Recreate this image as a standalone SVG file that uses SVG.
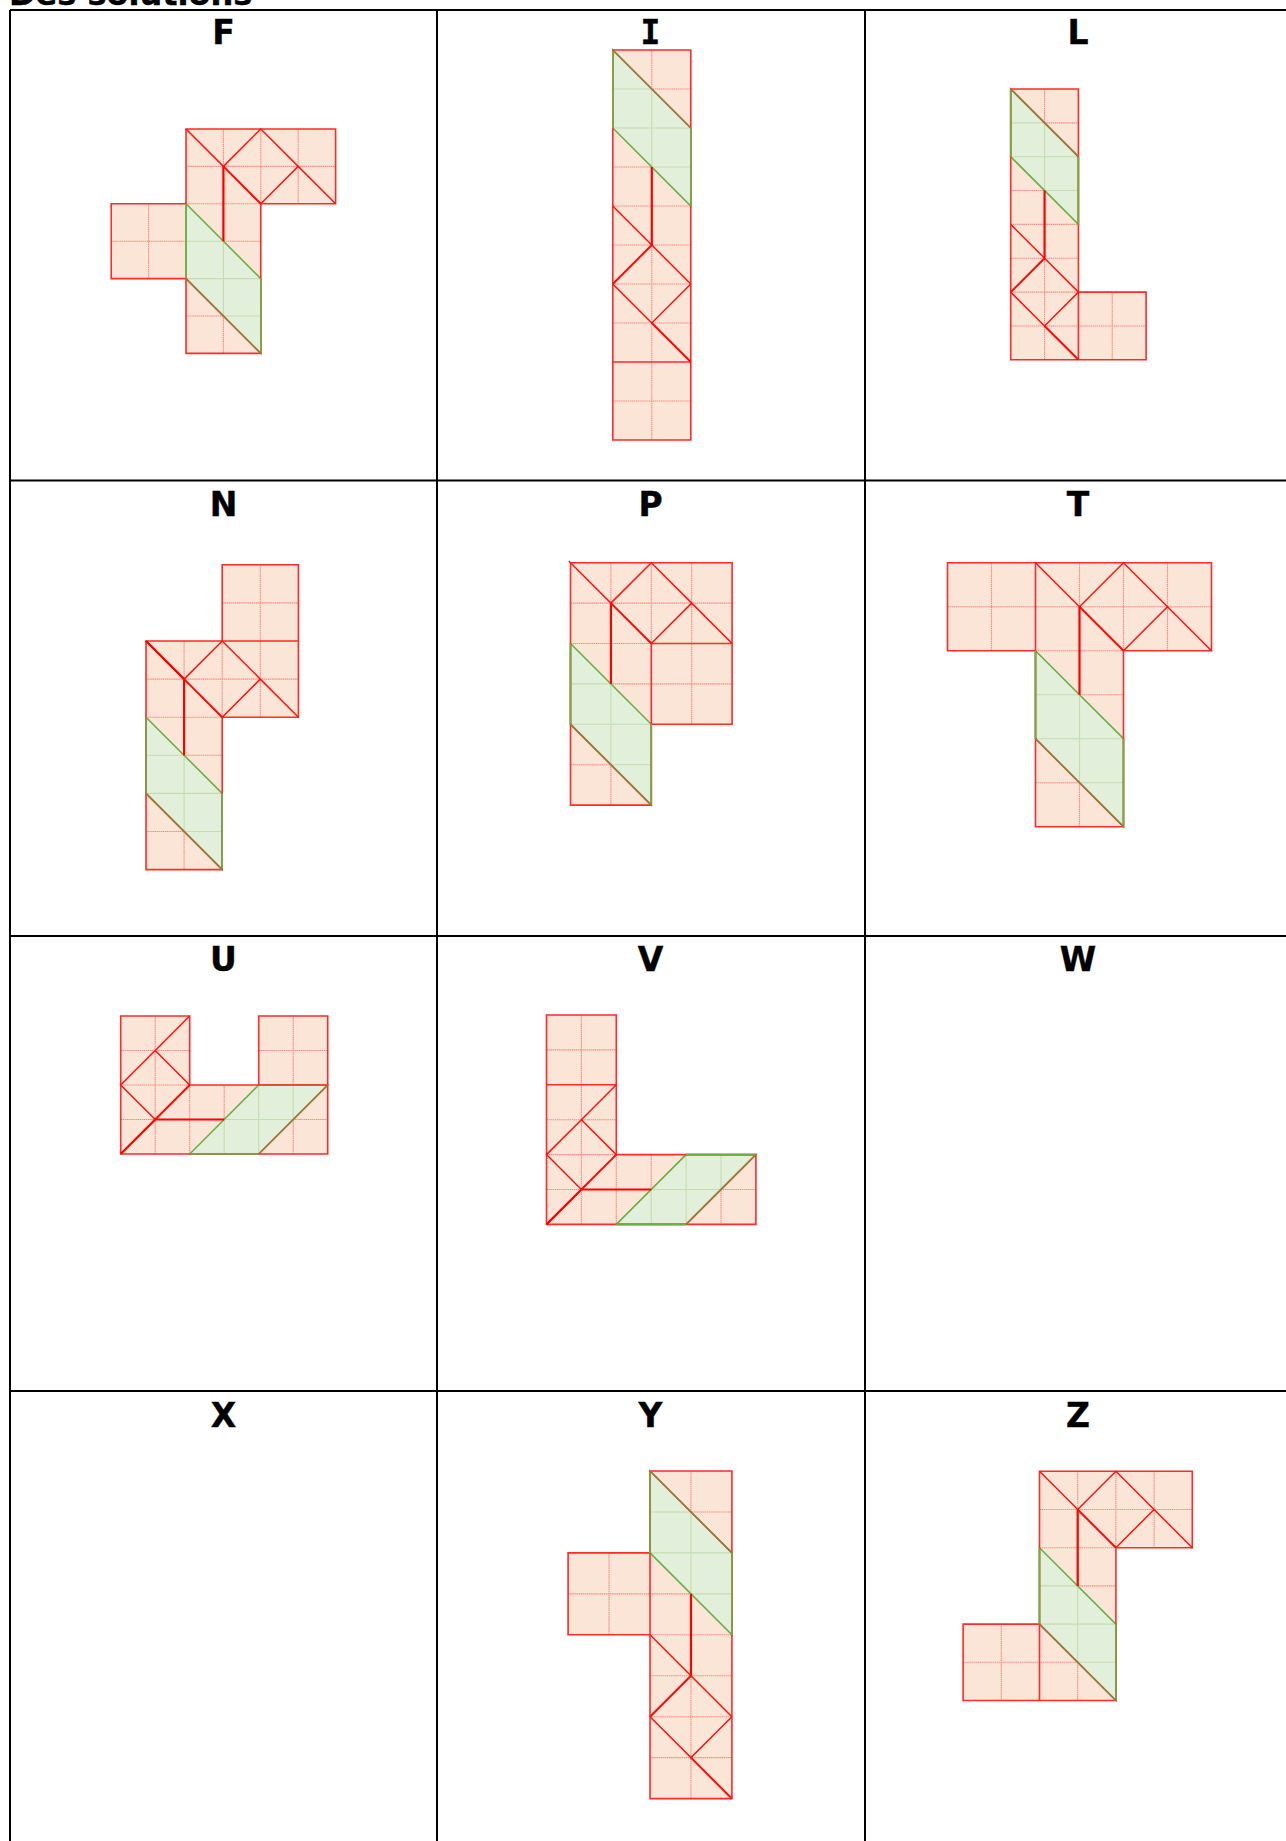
<svg xmlns="http://www.w3.org/2000/svg" width="1286" height="1841" viewBox="0 0 1286 1841">
<style>
text{font-family:"DejaVu Sans",sans-serif;font-weight:700;fill:#000;stroke:#000;stroke-width:.4}
.l{font-size:33px;text-anchor:middle}
.mono{font-family:"DejaVu Sans Mono",monospace}
.t{font-size:32px}
.tb{fill:none;stroke:#000;stroke-width:2}
.o,.s,.d,.g,.e,.p,.b,.m,.n{vector-effect:non-scaling-stroke;fill:none}
.f{fill:#fbe5d6;stroke:none}
.o{stroke:#ff2a2a;stroke-width:1.6;stroke-linejoin:miter}
.s{stroke:#ff1414;stroke-width:1.5}
.n{stroke:#ff0a0a;stroke-width:2}
.d{stroke:#ff3030;stroke-width:1.1;stroke-dasharray:1.5 .6;stroke-opacity:.5}
.p{fill:#e2efda;stroke:none}
.g{stroke:#c3ddb0;stroke-width:1.1}
.e{stroke:#70ad47;stroke-width:1.6}
.b{stroke:#a8703c;stroke-width:1.7}
.m{stroke:#ff0000;stroke-width:2.2}
</style>
<defs>
<g id="green">
<path class="p" d="M0 0L2 2V4L0 2Z"/>
<path class="g" d="M0 1H1M0 2H2M1 3H2M1 1V3"/>
<path class="e" d="M0 0L2 2V4L0 2Z"/>
</g>
<g id="wrap">
<path class="s" d="M0 0L1 1L2 0L3 1L4 2M2 2L3 1"/>
<path class="n" d="M1 1L2 2"/>
<path class="m" d="M1 1V3"/>
</g>
<g id="chain">
<path class="s" d="M0 4L1 5L2 6M0 6L1 7L2 6"/>
<path class="n" d="M1 5L0 6M1 7L2 8"/>
<path class="m" d="M1 3V5"/>
</g>
</defs>
<text class="t" x="9" y="5">Des solutions</text>
<g id="table">
<path class="tb" d="M10 10H1286M10 480.500H1286M10 936H1286M10 1391H1286M10 10V1841M437 10V1841M865 10V1841"/>
</g>
<g id="labels">
<text class="l" x="223.500" y="44">F</text><text class="l mono" x="650.500" y="44">I</text><text class="l" x="1078" y="44">L</text>
<text class="l" x="223.500" y="516">N</text><text class="l" x="650.500" y="516">P</text><text class="l" x="1078" y="516">T</text>
<text class="l" x="223.500" y="971">U</text><text class="l" x="650.500" y="971">V</text><text class="l" x="1078" y="971">W</text>
<text class="l" x="223.500" y="1427">X</text><text class="l" x="650.500" y="1427">Y</text><text class="l" x="1078" y="1427">Z</text>
</g>
<g id="piece-F" transform="translate(186 129) scale(37.4)">
<path class="f" d="M0 0H4V2H2V6H0V4H-2V2H0Z"/>
<path class="d" d="M0 1H4M0 2H2M0 3H2M-2 3H0M0 5H2M1 0V6M2 0V2M3 0V2M-1 2V4"/>
<use href="#green" transform="translate(0 2)"/>
<path class="o" d="M0 0H4V2H2V6H0V4H-2V2H0Z"/>
<use href="#wrap"/>
<path class="e" d="M0 2V4M2 4V6"/>
<path class="b" d="M0 4L2 6"/>
</g>
<g id="piece-I" transform="translate(612.800 50) scale(39)">
<path class="f" d="M0 0H2V10H0Z"/>
<path class="d" d="M0 1H2M0 2H2M0 3H2M0 4H2M0 5H2M0 6H2M0 7H2M0 9H2M1 0V10"/>
<use href="#green"/>
<path class="o" d="M0 0H2V10H0ZM0 8H2"/>
<use href="#chain"/>
<path class="e" d="M0 0V2M2 2V4"/>
<path class="b" d="M0 0L2 2"/>
</g>
<g id="piece-L" transform="translate(1010.700 89) scale(33.850)">
<path class="f" d="M0 0H2V6H4V8H0Z"/>
<path class="d" d="M0 1H2M0 2H2M0 3H2M0 4H2M0 5H2M0 6H2M0 7H4M1 0V8M3 6V8"/>
<use href="#green"/>
<path class="o" d="M0 0H2V6H4V8H0ZM2 6V8"/>
<use href="#chain"/>
<path class="e" d="M0 0V2M2 2V4"/>
<path class="b" d="M0 0L2 2"/>
</g>
<g id="piece-N" transform="translate(146 641) scale(38.100)">
<path class="f" d="M0 0H2V-2H4V2H2V6H0Z"/>
<path class="d" d="M2 -1H4M0 1H4M0 2H2M0 3H2M0 5H2M1 0V6M2 0V2M3 -2V2"/>
<use href="#green" transform="translate(0 2)"/>
<path class="o" d="M0 0H2V-2H4V2H2V6H0ZM2 0H4"/>
<use href="#wrap"/>
<path class="m" d="M0 0L1 1"/>
<path class="e" d="M0 2V4M2 4V6"/>
<path class="b" d="M0 4L2 6"/>
</g>
<g id="piece-P" transform="translate(570.500 562.700) scale(40.400)">
<path class="f" d="M0 0H4V4H2V6H0Z"/>
<path class="d" d="M0 1H4M0 2H2M2 3H4M0 3H2M0 5H2M1 0V6M2 0V2M3 0V4"/>
<use href="#green" transform="translate(0 2)"/>
<path class="o" d="M0 0H4V4H2V6H0ZM2 2H4M2 2V4"/>
<use href="#wrap"/>
<path class="s" d="M-.04 -.04L0 0"/>
<path class="e" d="M0 2V4M2 4V6"/>
<path class="b" d="M0 4L2 6"/>
</g>
<g id="piece-T" transform="translate(1035.500 562.700) scale(44)">
<path class="f" d="M-2 0H4V2H2V6H0V2H-2Z"/>
<path class="d" d="M-2 1H4M0 2H2M0 3H2M0 5H2M-1 0V2M1 0V6M2 0V2M3 0V2"/>
<use href="#green" transform="translate(0 2)"/>
<path class="o" d="M-2 0H4V2H2V6H0V2H-2ZM0 0V2"/>
<use href="#wrap"/>
<path class="e" d="M0 2V4M2 4V6"/>
<path class="b" d="M0 4L2 6"/>
</g>
<g id="piece-U" transform="translate(120.700 1016) scale(34.500)">
<path class="f" d="M0 0H2V2H4V0H6V4H0Z"/>
<path class="d" d="M0 1H2M4 1H6M0 2H2M0 3H6M1 0V4M2 2V4M3 2V4M5 0V4"/>
<use href="#green" transform="translate(2 4) rotate(-90)"/>
<path class="o" d="M0 0H2V2H4V0H6V4H0ZM4 2H6"/>
<path class="s" d="M2 0L1 1L0 2L1 3M2 2L1 1"/>
<path class="n" d="M1 3L2 2"/>
<path class="m" d="M1 3L0 4M1 3H3"/>
<path class="e" d="M2 4H4"/>
<path class="b" d="M4 4L6 2"/>
</g>
<g id="piece-V" transform="translate(546.500 1015) scale(34.900)">
<path class="f" d="M0 0H2V4H6V6H0Z"/>
<path class="d" d="M0 1H2M0 3H2M0 4H2M0 5H6M1 0V6M2 4V6M3 4V6M5 4V6"/>
<use href="#green" transform="translate(2 6) rotate(-90)"/>
<path class="o" d="M0 0H2V4H6V6H0ZM0 2H2"/>
<path class="s" d="M2 2L1 3L0 4L1 5M2 4L1 3"/>
<path class="n" d="M1 5L2 4"/>
<path class="m" d="M1 5L0 6M1 5H3"/>
<path class="e" d="M2 6H4M4 4H6"/>
<path class="b" d="M4 6L6 4"/>
</g>
<g id="piece-Y" transform="translate(650 1471) scale(40.950)">
<path class="f" d="M0 0H2V8H0V4H-2V2H0Z"/>
<path class="d" d="M0 1H2M0 2H2M-2 3H2M0 4H2M0 5H2M0 6H2M0 7H2M1 0V8M-1 2V4"/>
<use href="#green"/>
<path class="o" d="M0 0H2V8H0V4H-2V2H0ZM0 2V4"/>
<use href="#chain"/>
<path class="e" d="M0 0V2M2 2V4"/>
<path class="b" d="M0 0L2 2"/>
</g>
<g id="piece-Z" transform="translate(1039.500 1471.300) scale(38.200)">
<path class="f" d="M0 0H4V2H2V6H-2V4H0Z"/>
<path class="d" d="M0 1H4M0 2H2M0 3H2M-2 5H2M1 0V6M2 0V2M3 0V2M-1 4V6"/>
<use href="#green" transform="translate(0 2)"/>
<path class="o" d="M0 0H4V2H2V6H-2V4H0ZM0 4V6"/>
<use href="#wrap"/>
<path class="e" d="M0 2V4M2 4V6"/>
<path class="b" d="M0 4L2 6"/>
</g>
</svg>
